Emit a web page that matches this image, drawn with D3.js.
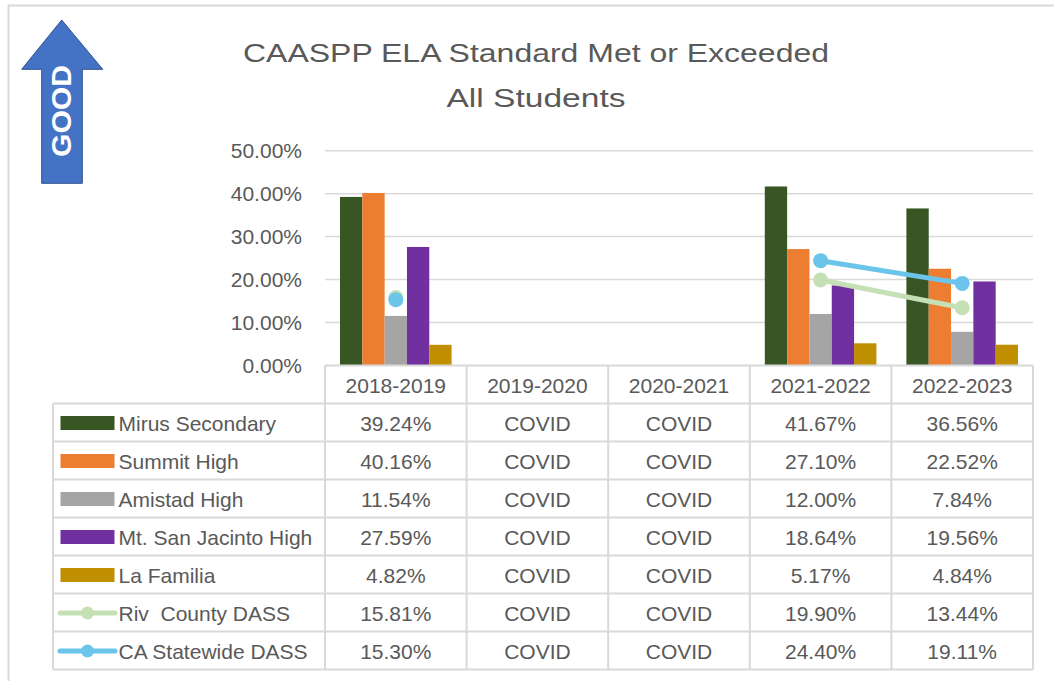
<!DOCTYPE html>
<html>
<head>
<meta charset="utf-8">
<script src="https://cdn.jsdelivr.net/npm/d3@7"></script>
<style>
  body { margin: 0; background: #fff; }
  text { font-family: "Liberation Sans", Arial, sans-serif; fill: #595959; }
</style>
</head>
<body>
<div id="chart"></div>
<script>
// chart size and plot box
const width = 1054;
const height = 681;
const plot = {left: 325, right: 1033, top: 150.7, bottom: 365.5};
const rowH = 38;

// data
const years = ["2018-2019", "2019-2020", "2020-2021", "2021-2022", "2022-2023"];
const barNames = ["Mirus Secondary", "Summit High", "Amistad High", "Mt. San Jacinto High", "La Familia"];
const barColors = ["#375623", "#ED7D31", "#A5A5A5", "#7030A0", "#BF8F00"];
const mirus = [39.24, null, null, 41.67, 36.56];
const summit = [40.16, null, null, 27.10, 22.52];
const amistad = [11.54, null, null, 12.00, 7.84];
const msj = [27.59, null, null, 18.64, 19.56];
const laFamilia = [4.82, null, null, 5.17, 4.84];
const lineNames = ["Riv  County DASS", "CA Statewide DASS"];
const lineColors = ["#C5E0B4", "#6BC4EA"];
const riv = [15.81, null, null, 19.90, 13.44];
const caState = [15.30, null, null, 24.40, 19.11];
const yTicks = [0, 10, 20, 30, 40, 50];

const barSeries = [mirus, summit, amistad, msj, laFamilia];
const lineSeries = [riv, caState];

const svg = d3.select("#chart")
  .append("svg")
  .attr("width", width)
  .attr("height", height);

// outer frame (top and left edge visible)
svg.append("path")
  .attr("d", `M8.5,${height} V5.5 H${width}`)
  .attr("fill", "none")
  .attr("stroke", "#d9d9d9")
  .attr("stroke-width", 2);

// scales
const x0 = d3.scaleBand().domain(years).range([plot.left, plot.right]);
const x1 = d3.scaleBand().domain(barNames).range([15, x0.bandwidth() - 15]);
const y = d3.scaleLinear().domain([0, 50]).range([plot.bottom, plot.top]);

// "GOOD" arrow
svg.append("path")
  .attr("d", "M61.7,20 L102.7,69.3 L82.3,69.3 L82.3,183.3 L41.7,183.3 L41.7,69.3 L21.7,69.3 Z")
  .attr("fill", "#4472C4")
  .attr("stroke", "#2F528F")
  .attr("stroke-width", 1);
svg.append("text")
  .attr("transform", "translate(71,111) rotate(-90)")
  .attr("text-anchor", "middle")
  .attr("font-size", "27px")
  .attr("font-weight", "bold")
  .attr("textLength", 92)
  .attr("lengthAdjust", "spacingAndGlyphs")
  .style("fill", "#fff")
  .text("GOOD");

// title
svg.append("text")
  .attr("x", 536).attr("y", 61.5)
  .attr("text-anchor", "middle")
  .attr("font-size", "26px")
  .attr("textLength", 586)
  .attr("lengthAdjust", "spacingAndGlyphs")
  .text("CAASPP ELA Standard Met or Exceeded");
svg.append("text")
  .attr("x", 536).attr("y", 107)
  .attr("text-anchor", "middle")
  .attr("font-size", "26px")
  .attr("textLength", 179)
  .attr("lengthAdjust", "spacingAndGlyphs")
  .text("All Students");

// y gridlines and labels
svg.append("g")
  .selectAll("line")
  .data(yTicks.filter(d => d > 0))
  .join("line")
  .attr("x1", plot.left).attr("x2", plot.right)
  .attr("y1", d => y(d)).attr("y2", d => y(d))
  .attr("stroke", "#d9d9d9")
  .attr("stroke-width", 1.5);

svg.append("g")
  .selectAll("text")
  .data(yTicks)
  .join("text")
  .attr("x", 302)
  .attr("y", d => y(d))
  .attr("dy", "0.36em")
  .attr("text-anchor", "end")
  .attr("font-size", "21px")
  .text(d => d.toFixed(2) + "%");

// bars
barSeries.forEach((vals, s) => {
  svg.append("g")
    .selectAll("rect")
    .data(years.map((yr, i) => ({yr: yr, v: vals[i]})).filter(d => d.v != null))
    .join("rect")
    .attr("x", d => x0(d.yr) + x1(barNames[s]))
    .attr("y", d => y(d.v))
    .attr("width", x1.bandwidth())
    .attr("height", d => y(0) - y(d.v))
    .attr("fill", barColors[s]);
});

// lines with markers
const line = d3.line()
  .defined(d => d.v != null)
  .x(d => x0(d.yr) + x0.bandwidth() / 2)
  .y(d => y(d.v));

lineSeries.forEach((vals, s) => {
  const pts = years.map((yr, i) => ({yr: yr, v: vals[i]}));
  svg.append("path")
    .datum(pts)
    .attr("d", line)
    .attr("fill", "none")
    .attr("stroke", lineColors[s])
    .attr("stroke-width", 5)
    .attr("stroke-linecap", "round");
  svg.append("g")
    .selectAll("circle")
    .data(pts.filter(d => d.v != null))
    .join("circle")
    .attr("cx", d => x0(d.yr) + x0.bandwidth() / 2)
    .attr("cy", d => y(d.v))
    .attr("r", 7.5)
    .attr("fill", lineColors[s]);
});

// data table
const tableTop = plot.bottom;
const legendLeft = 53;
const rows = barNames.length + lineNames.length;
const grid = svg.append("g")
  .attr("stroke", "#d9d9d9")
  .attr("stroke-width", 2);

// top line under the plot
grid.append("line")
  .attr("x1", plot.left).attr("x2", plot.right)
  .attr("y1", tableTop).attr("y2", tableTop);
// horizontal row lines
grid.selectAll(".hrow")
  .data(d3.range(rows + 1))
  .join("line")
  .attr("class", "hrow")
  .attr("x1", legendLeft).attr("x2", plot.right)
  .attr("y1", i => tableTop + rowH + i * rowH)
  .attr("y2", i => tableTop + rowH + i * rowH);
// vertical column lines
grid.selectAll(".vcol")
  .data(years.concat(["end"]))
  .join("line")
  .attr("class", "vcol")
  .attr("x1", d => d === "end" ? plot.right : x0(d))
  .attr("x2", d => d === "end" ? plot.right : x0(d))
  .attr("y1", tableTop)
  .attr("y2", tableTop + rowH * (rows + 1));
grid.append("line")
  .attr("x1", legendLeft).attr("x2", legendLeft)
  .attr("y1", tableTop + rowH)
  .attr("y2", tableTop + rowH * (rows + 1));

// column headers
svg.append("g")
  .selectAll("text")
  .data(years)
  .join("text")
  .attr("x", d => x0(d) + x0.bandwidth() / 2)
  .attr("y", tableTop + rowH / 2 + 1)
  .attr("dy", "0.36em")
  .attr("text-anchor", "middle")
  .attr("font-size", "21px")
  .text(d => d);

// table rows: legend key + values
const allNames = barNames.concat(lineNames);
const allVals = barSeries.concat(lineSeries);
allNames.forEach((name, r) => {
  const cy = tableTop + rowH * (r + 1) + rowH / 2 + 0.5;
  if (r < barNames.length) {
    svg.append("rect")
      .attr("x", 60.5).attr("y", cy - 7)
      .attr("width", 54).attr("height", 14)
      .attr("fill", barColors[r]);
  } else {
    const c = lineColors[r - barNames.length];
    svg.append("line")
      .attr("x1", 60).attr("x2", 115)
      .attr("y1", cy).attr("y2", cy)
      .attr("stroke", c)
      .attr("stroke-width", 5)
      .attr("stroke-linecap", "round");
    svg.append("circle")
      .attr("cx", 87.5).attr("cy", cy)
      .attr("r", 6.5)
      .attr("fill", c);
  }
  svg.append("text")
    .attr("x", 118.5).attr("y", cy)
    .attr("dy", "0.36em")
    .attr("font-size", "21px")
    .style("white-space", "pre")
    .text(name);

  svg.append("g")
    .selectAll("text")
    .data(years.map((yr, i) => ({yr: yr, v: allVals[r][i]})))
    .join("text")
    .attr("x", d => x0(d.yr) + x0.bandwidth() / 2)
    .attr("y", cy)
    .attr("dy", "0.36em")
    .attr("text-anchor", "middle")
    .attr("font-size", "21px")
    .text(d => d.v == null ? "COVID" : d.v.toFixed(2) + "%");
});
</script>
</body>
</html>
